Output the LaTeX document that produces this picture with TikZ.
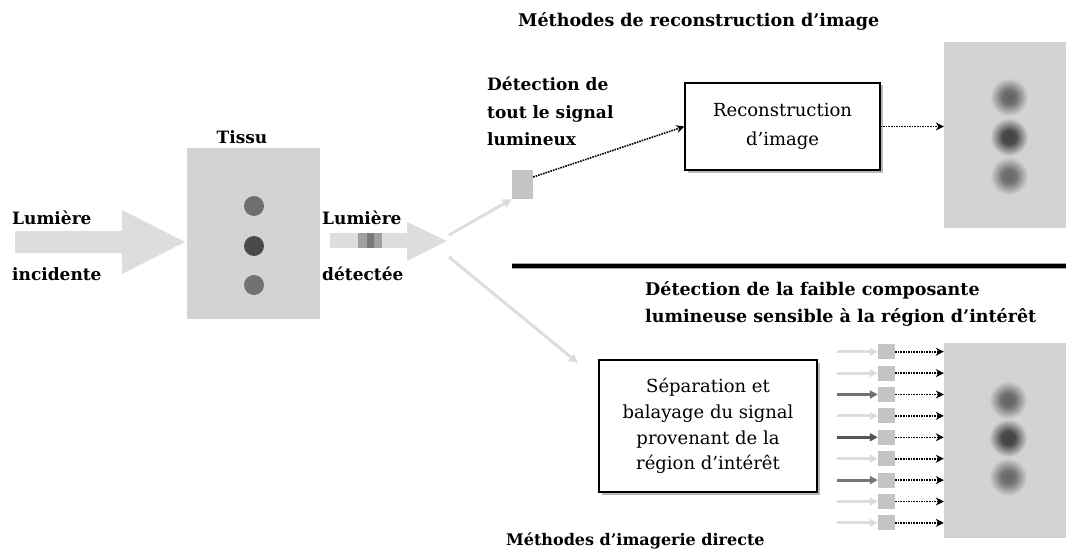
\documentclass[tikz,border=0pt]{standalone}
\usepackage{fontspec}
\setmainfont{DejaVu Serif}
\usetikzlibrary{arrows.meta,shadows,calc}
\definecolor{lightarr}{HTML}{DDDDDD}
\definecolor{lighthead}{HTML}{CFCFCF}
\definecolor{tissue}{HTML}{D3D3D3}
\definecolor{sqc}{HTML}{C4C4C4}
\definecolor{dotA}{HTML}{6E6E6E}
\definecolor{dotB}{HTML}{4A4A4A}
\definecolor{dotC}{HTML}{727272}
\definecolor{rowA}{HTML}{707070}
\definecolor{rowB}{HTML}{555555}
\definecolor{rowC}{HTML}{777777}
\pgfdeclareradialshading{blobA}{\pgfpointorigin}{color(0bp)=(dotA!90!black); color(9bp)=(dotA); color(25bp)=(tissue); color(50bp)=(tissue)}
\pgfdeclareradialshading{blobB}{\pgfpointorigin}{color(0bp)=(dotB!90!black); color(9bp)=(dotB); color(25bp)=(tissue); color(50bp)=(tissue)}
\pgfdeclareradialshading{blobC}{\pgfpointorigin}{color(0bp)=(dotC!90!black); color(9bp)=(dotC); color(25bp)=(tissue); color(50bp)=(tissue)}
\tikzset{
  lbl/.style={font=\bfseries\fontsize{17}{20}\selectfont, inner sep=0pt, anchor=base west},
  boxtxt/.style={draw, line width=1.3pt, fill=white, align=center, inner sep=0pt,
    drop shadow={shadow xshift=2.5pt, shadow yshift=-2.5pt, fill=gray!55, opacity=1}},
  panel/.style={fill=tissue, draw=none, inner sep=0pt},
  dotarr/.style={densely dotted, line width=1.6pt, -{Stealth[length=8pt,width=8pt]}},
  lightline/.style={draw=lightarr, line width=3pt, -{Triangle[length=9pt,width=9pt,fill=lighthead]}},
  rowarr/.style={line width=3pt, -{Triangle[length=8pt,width=8pt]}},
  detsq/.style={fill=sqc, draw=none, inner sep=0pt},
}
\begin{document}
\begin{tikzpicture}[x=1pt,y=-1pt]
\useasboundingbox (0,0) rectangle (1066,551);

% incident light arrow
\fill[lightarr] (15,231) -- (122,231) -- (122,210) -- (185,242) -- (122,274) -- (122,253) -- (15,253) -- cycle;
\node[lbl] (lum1) at (12,224) {Lumière};
\node[lbl] (inc) at (12,280) {incidente};

% tissue
\node[panel, minimum width=133pt, minimum height=171pt] (tissu) at (253.5,233.5) {};
\node[lbl, anchor=base] (tissulbl) at (242,143) {Tissu};
\fill[dotA] (254,206) circle (10pt);
\fill[dotB] (254,246) circle (10pt);
\fill[dotC] (254,285) circle (10pt);

% detected light arrow
\fill[lightarr] (330,233) -- (407,233) -- (407,222) -- (447,241) -- (407,261) -- (407,248) -- (330,248) -- cycle;
\fill[gray!75] (358,233) rectangle (382,248);
\fill[gray!95!black] (367,233) rectangle (374,248);
\coordinate (split) at (447,241);
\node[lbl] (lum2) at (322,224) {Lumière};
\node[lbl] (det) at (322,280) {détectée};

% titles
\node[lbl, font=\bfseries\fontsize{17.5}{20}\selectfont] (title1) at (518,27) {Méthodes de reconstruction d’image};
\node[lbl, font=\bfseries\fontsize{16}{18}\selectfont] (title2) at (506,545) {Méthodes d’imagerie directe};

% upper branch
\node[detsq, minimum width=21pt, minimum height=29pt] (sq) at (522.5,184.5) {};
\node[lbl, align=left, anchor=north west, font=\bfseries\fontsize{17}{27.5}\selectfont] (dettxt) at (487,77) {Détection de\\tout le signal\\lumineux};
\node[boxtxt, minimum width=195pt, minimum height=87pt, font=\fontsize{18}{29}\selectfont] (recon) at (782.5,126.5) {Reconstruction\\d’image};
\node[panel, minimum width=122pt, minimum height=186pt] (panelA) at (1005,135) {};
\shade[shading=blobA] (1009,97) circle (19pt);
\shade[shading=blobB] (1009,137) circle (19pt);
\shade[shading=blobC] (1009,176) circle (19pt);

\coordinate (upS) at (449,235);
\draw[lightline] (upS) -- (sq.south west);
\draw[dotarr] (sq.35) -- (recon.west);
\draw[dotarr] (recon.east) -- (recon.east -| panelA.west);

% separator
\draw[line width=6pt, gray!70] (512,266) -- (1066,266);
\draw[line width=3.6pt, black] (512,266) -- (1066,266);

% lower branch
\node[lbl, align=left, anchor=north west, font=\bfseries\fontsize{17.5}{27}\selectfont] (faibletxt) at (645,281) {Détection de la faible composante\\lumineuse sensible à la région d’intérêt};
\node[boxtxt, minimum width=218pt, minimum height=132pt, font=\fontsize{18}{25.7}\selectfont] (sep) at (708,426) {Séparation et\\balayage du signal\\provenant de la\\région d’intérêt};
\coordinate (downS) at (449,257);
\coordinate (downE) at (578,363);
\draw[lightline] (downS) -- (downE);

\node[panel, minimum width=122pt, minimum height=195pt] (panelB) at (1005,440.5) {};
\shade[shading=blobA] (1008,400) circle (19pt);
\shade[shading=blobB] (1008,438) circle (19pt);
\shade[shading=blobC] (1008,477) circle (19pt);

\foreach \c [count=\i] in {lightarr,lightarr,rowA,lightarr,rowB,lightarr,rowC,lightarr,lightarr} {
  \pgfmathsetmacro{\yy}{351.7+21.4*(\i-1)}
  \node[detsq, minimum width=17pt, minimum height=15pt] (d\i) at (886.5,\yy) {};
  \coordinate (s\i) at (837,\yy);
  \draw[rowarr, draw=\c, -{Triangle[length=8pt,width=8pt,fill=\c!90!black]}] (s\i) -- (d\i.west);
  \draw[dotarr] (d\i.east) -- (d\i.east -| panelB.west);
}
\end{tikzpicture}
\end{document}
